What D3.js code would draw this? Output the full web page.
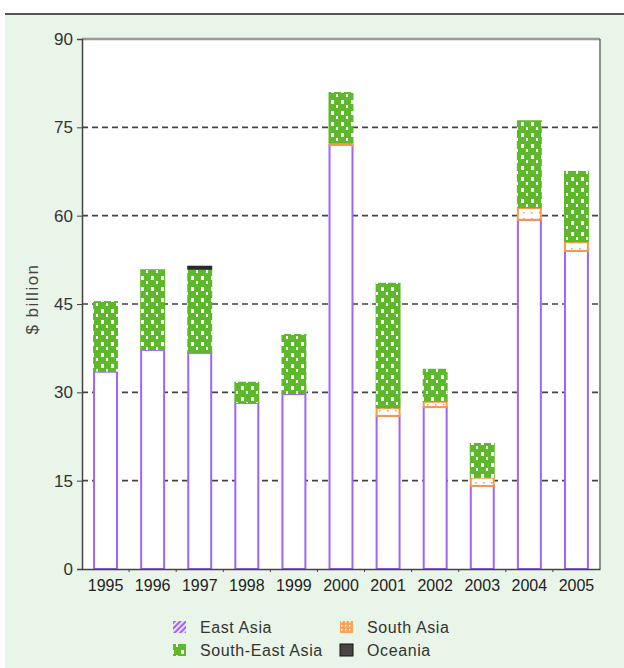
<!DOCTYPE html>
<html><head><meta charset="utf-8">
<script src="https://cdn.jsdelivr.net/npm/d3@7"></script>
<style>body{margin:0;background:#fff;font-family:"Liberation Sans",Arial,sans-serif}</style>
</head><body>
<svg id="c" width="624" height="668"></svg>
<script>
const years = ["1995","1996","1997","1998","1999","2000","2001","2002","2003","2004","2005"];
const eastAsia      = [33.5, 37.2, 36.7, 28.2, 29.7, 72.0, 26.0, 27.5, 14.1, 59.3, 54.0];
const southAsia     = [0, 0, 0, 0, 0, 0.3, 1.3, 0.9, 1.4, 2.0, 1.5];
const southEastAsia = [12.0, 13.7, 14.1, 3.6, 10.2, 8.7, 21.3, 5.6, 5.9, 14.9, 12.1];
const oceania       = [0, 0, 0.7, 0, 0, 0, 0, 0, 0, 0, 0];
const seriesNames = ["East Asia","South Asia","South-East Asia","Oceania"];
const yTicks = [0,15,30,45,60,75,90];

const svg = d3.select("#c");
const defs = svg.append("defs");
// SE Asia pattern
const pSE = defs.append("pattern").attr("id","pSE").attr("patternUnits","userSpaceOnUse").attr("width",10).attr("height",11);
pSE.append("rect").attr("width",10).attr("height",11).attr("fill","#5db92b");
pSE.append("rect").attr("x",1).attr("y",1).attr("width",3).attr("height",4).attr("fill","#fff");
pSE.append("rect").attr("x",6).attr("y",6).attr("width",2).attr("height",3).attr("fill","#fff");
// South Asia pattern
const pSA = defs.append("pattern").attr("id","pSA").attr("patternUnits","userSpaceOnUse").attr("width",8).attr("height",6);
pSA.append("rect").attr("width",8).attr("height",6).attr("fill","#fff");
pSA.append("rect").attr("x",3).attr("y",2).attr("width",1.5).attr("height",1.5).attr("fill","#f59a4a");
// legend pattern East Asia
const pEA = defs.append("pattern").attr("id","pEA").attr("patternUnits","userSpaceOnUse").attr("width",4).attr("height",4).attr("patternTransform","rotate(45)");
pEA.append("rect").attr("width",4).attr("height",4).attr("fill","#9d66f5");
pEA.append("rect").attr("width",1.6).attr("height",4).attr("fill","#fff");
const pSAL = defs.append("pattern").attr("id","pSAL").attr("patternUnits","userSpaceOnUse").attr("width",4).attr("height",4);
pSAL.append("rect").attr("width",4).attr("height",4).attr("fill","#f7a35a");
pSAL.append("rect").attr("x",1).attr("y",1).attr("width",1.5).attr("height",1.5).attr("fill","#fff");

// background panel
svg.append("rect").attr("x",5).attr("y",14).attr("width",619).attr("height",654).attr("fill","#e9f5e8");
svg.append("line").attr("x1",5).attr("x2",624).attr("y1",14).attr("y2",14).attr("stroke","#555").attr("stroke-width",2);

const pL=82, pR=600, pT=39, pB=569;
svg.append("rect").attr("x",pL).attr("y",pT).attr("width",pR-pL).attr("height",pB-pT).attr("fill","#fff");

const x = d3.scaleBand().domain(years).range([pL,pR]).paddingInner(0.47).paddingOuter(0.235);
const y = d3.scaleLinear().domain([0,90]).range([pB,pT]);

// grid
svg.append("g").selectAll("line").data(yTicks.filter(t=>t>0&&t<90)).join("line")
  .attr("x1",pL).attr("x2",pR).attr("y1",d=>y(d)).attr("y2",d=>y(d))
  .attr("stroke","#444").attr("stroke-width",1.6).attr("stroke-dasharray","6,4");

// stacked bars
const data = years.map((yr,i)=>({year:yr,"East Asia":eastAsia[i],"South Asia":southAsia[i],"South-East Asia":southEastAsia[i],"Oceania":oceania[i]}));
const stack = d3.stack().keys(seriesNames)(data);
const fills = {"East Asia":"#fff","South Asia":"url(#pSA)","South-East Asia":"url(#pSE)","Oceania":"#2a2a2a"};
const strokes = {"East Asia":"#9d66f5","South Asia":"#f59a4a","South-East Asia":"none","Oceania":"none"};
stack.forEach(s=>{
  svg.append("g").selectAll("rect").data(s.filter(d=>d[1]-d[0]>0)).join("rect")
    .attr("x",d=>x(d.data.year)+(strokes[s.key]!=="none"?1:0))
    .attr("width",x.bandwidth()-(strokes[s.key]!=="none"?2:0))
    .attr("y",d=>y(d[1]))
    .attr("height",d=>y(d[0])-y(d[1]))
    .attr("fill",fills[s.key]).attr("stroke",strokes[s.key]).attr("stroke-width",2);
});

// frame: top & right
svg.append("line").attr("x1",pL).attr("x2",pR).attr("y1",pT).attr("y2",pT).attr("stroke","#999").attr("stroke-width",2.5);
svg.append("line").attr("x1",pR).attr("x2",pR).attr("y1",pT).attr("y2",pB).attr("stroke","#555").attr("stroke-width",1.3);

// axes
const ya = svg.append("g").attr("transform",`translate(${pL},0)`)
  .call(d3.axisLeft(y).tickValues(yTicks).tickSize(5).tickPadding(4));
ya.select(".domain").attr("stroke","#444").attr("stroke-width",1.5);
ya.selectAll("text").attr("font-size",17).attr("fill","#333").attr("font-family","Liberation Sans, Arial");
ya.selectAll("line").attr("stroke","#444");

const xa = svg.append("g").attr("transform",`translate(0,${pB})`)
  .call(d3.axisBottom(x).tickSize(0).tickPadding(11));
xa.select(".domain").attr("stroke","#444").attr("stroke-width",1.5);
xa.selectAll("text").attr("font-size",16).attr("fill","#222").attr("font-family","Liberation Sans, Arial");
// small boundary ticks
svg.append("g").selectAll("line").data(years.slice(1)).join("line")
  .attr("x1",d=>x(d)-x.step()*x.paddingInner()/2).attr("x2",d=>x(d)-x.step()*x.paddingInner()/2)
  .attr("y1",pB).attr("y2",pB+3).attr("stroke","#444");

svg.append("text").attr("transform","translate(38,299) rotate(-90)").attr("text-anchor","middle")
  .attr("font-size",17).attr("letter-spacing",1.5).attr("fill","#444").text("$ billion");

// legend
const legend = [
  {name:"East Asia", fill:"url(#pEA)", x:173, y:621},
  {name:"South Asia", fill:"url(#pSAL)", x:340, y:621},
  {name:"South-East Asia", fill:"url(#pSE)", x:173, y:644},
  {name:"Oceania", fill:"#4a4444", x:340, y:644}
];
const lg = svg.append("g").selectAll("g").data(legend).join("g");
lg.append("rect").attr("x",d=>d.x).attr("y",d=>d.y).attr("width",13).attr("height",12)
  .attr("fill",d=>d.fill).attr("stroke",d=>d.name==="Oceania"?"#111":"none");
lg.append("text").attr("x",d=>d.x+27).attr("y",d=>d.y+12).attr("font-size",16).attr("letter-spacing",0.6).attr("fill","#333").text(d=>d.name);
</script>
</body></html>
